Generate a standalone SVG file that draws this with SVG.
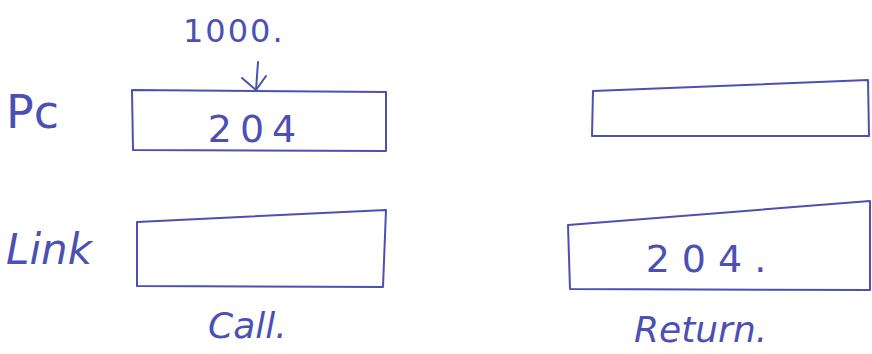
<svg xmlns="http://www.w3.org/2000/svg" width="872" height="354" viewBox="0 0 872 354">
<style>
.ink{fill:none;stroke:#4b50b5;stroke-width:2;stroke-linecap:round;stroke-linejoin:round}
.t{fill:#4b50b5;font-family:"DejaVu Sans","Liberation Sans",sans-serif;font-weight:normal}
.h{fill:#4b50b5;font-family:"DejaVu Sans","Liberation Sans",sans-serif;font-style:italic}
</style>
<rect width="872" height="354" fill="#ffffff"/>
<g id="labels">
<text class="t" x="183" y="42" font-size="32" letter-spacing="2">1000.</text>
<text class="t" x="6" y="128" font-size="46">Pc</text>
<text class="h" x="6" y="264" font-size="42">Link</text>
<text class="h" x="208" y="338" font-size="36">Call.</text>
<text class="h" x="634" y="342" font-size="36">Return.</text>
</g>
<g id="pc-call">
<path class="ink" d="M132 90 L386 92 L386 151 L133 150 Z"/>
<text class="t" x="256" y="142" font-size="38" text-anchor="middle" letter-spacing="8">204</text>
</g>
<g id="link-call">
<path class="ink" d="M137 222 L386 210 L383 287 L137 286 Z"/>
</g>
<g id="pc-return">
<path class="ink" d="M593 91 L868 80 L869 136 L592 136 Z"/>
</g>
<g id="link-return">
<path class="ink" d="M568 225 L870 201 L870 290 L570 289 Z"/>
<text class="t" x="712" y="272" font-size="38" text-anchor="middle" letter-spacing="12">204.</text>
</g>
<g id="connectors">
<path class="ink" d="M258 62 L256 90"/>
<path class="ink" d="M242 78 L256 90 L266 76"/>
</g>
</svg>
